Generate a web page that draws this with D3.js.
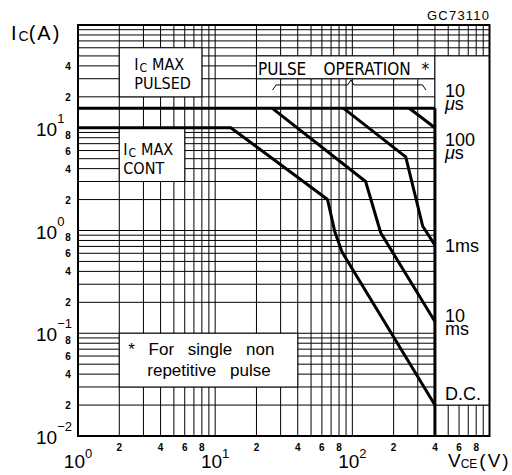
<!DOCTYPE html>
<html>
<head>
<meta charset="utf-8">
<script src="https://cdn.jsdelivr.net/npm/d3@7"></script>
<style>
    body { margin: 0; background: #fff; }
    svg { display: block; }
    .narrow { font-family: "Liberation Sans Narrow", "DejaVu Sans Condensed", "Liberation Sans", sans-serif; }
    .plain { font-family: "Liberation Sans", Arial, sans-serif; }
    .tickLabel { font-family: "Liberation Sans", Arial, sans-serif; font-weight: bold; font-size: 10px; }
</style>
</head>
<body>
<div id="chart"></div>
<script>
// data
const vceDomain = [1, 1000];
const icDomain = [0.01, 100];

// soa limit curves (Vce in V, Ic in A)
const us10Vce = [1, 400];
const us10Ic = [15.5, 15.5];
const us100Vce = [260, 400];
const us100Ic = [15.5, 10];
const ms1Vce = [86, 245, 326, 400];
const ms1Ic = [15.5, 5.2, 1.1, 0.72];
const ms10Vce = [26, 125, 161, 400];
const ms10Ic = [15.5, 3, 0.95, 0.13];
const dcVce = [1, 13, 66, 74.5, 84, 400];
const dcIc = [10, 10, 2, 0.97, 0.62, 0.02];
const vceoMax = 400;

// curve names in the right hand column, with the Ic of their first baseline
const curveNames = [["10", "μs"], ["100", "μs"], ["1ms"], ["10", "ms"], ["D.C."]];
const curveNameIc = [20, 6.6, 0.62, 0.13, 0.0225];

// tick labels
const xDecadeExps = [0, 1, 2];
const yDecadeExps = [-2, -1, 0, 1];
const minorDigits = [2, 4, 6, 8];

// constants
const WIDTH = 512;
const HEIGHT = 475;
const PLOT_LEFT = 78;
const PLOT_RIGHT = 489.5;
const PLOT_TOP = 25;
const PLOT_BOTTOM = 436;
const CURVE_WIDTH = 3;

const x = d3.scaleLog().domain(vceDomain).range([PLOT_LEFT, PLOT_RIGHT]);
const y = d3.scaleLog().domain(icDomain).range([PLOT_BOTTOM, PLOT_TOP]);

const svg = d3.select("#chart").append("svg")
    .attr("width", WIDTH)
    .attr("height", HEIGHT);

drawGrid();
drawBoxes();
drawCurves();
drawFrame();
drawAxisLabels();
drawNotes();

function drawGrid() {
    const grid = svg.append("g").attr("stroke", "#000").attr("stroke-width", 1);
    grid.selectAll(".vgrid")
        .data(x.ticks())
        .join("line")
        .attr("class", "vgrid")
        .attr("x1", d => x(d)).attr("x2", d => x(d))
        .attr("y1", PLOT_TOP).attr("y2", PLOT_BOTTOM);
    grid.selectAll(".hgrid")
        .data(y.ticks())
        .join("line")
        .attr("class", "hgrid")
        .attr("x1", PLOT_LEFT).attr("x2", PLOT_RIGHT)
        .attr("y1", d => y(d)).attr("y2", d => y(d));
}

function box(v0, v1, i0, i1) {
    svg.append("rect")
        .attr("x", x(v0))
        .attr("y", y(i1))
        .attr("width", x(v1) - x(v0))
        .attr("height", y(i0) - y(i1))
        .attr("fill", "#fff")
        .attr("stroke", "#000")
        .attr("stroke-width", 1);
}

function drawBoxes() {
    box(2, 8, 20, 60);        // Ic max pulsed
    box(2, 6, 3, 10);         // Ic max cont
    box(20, 400, 30, 50);     // pulse operation
    box(2, 40, 0.03, 0.1);    // footnote
    box(400, 1000, 0.02, 50); // curve names
}

function drawCurves() {
    const line = d3.line().x(d => x(d[0])).y(d => y(d[1]));
    const curves = [
        [us10Vce, us10Ic],
        [us100Vce, us100Ic],
        [ms1Vce, ms1Ic],
        [ms10Vce, ms10Ic],
        [dcVce, dcIc],
    ].map(([vs, is]) => vs.map((v, k) => [v, is[k]]));

    svg.append("g").selectAll("path")
        .data(curves)
        .join("path")
        .attr("d", line)
        .attr("fill", "none")
        .attr("stroke", "#000")
        .attr("stroke-width", CURVE_WIDTH)
        .attr("stroke-linejoin", "round");

    // vceo limit
    svg.append("line")
        .attr("x1", x(vceoMax)).attr("x2", x(vceoMax))
        .attr("y1", y(us10Ic[0])).attr("y2", PLOT_BOTTOM)
        .attr("stroke", "#000")
        .attr("stroke-width", CURVE_WIDTH);
}

function drawFrame() {
    svg.append("rect")
        .attr("x", PLOT_LEFT).attr("y", PLOT_TOP)
        .attr("width", PLOT_RIGHT - PLOT_LEFT)
        .attr("height", PLOT_BOTTOM - PLOT_TOP)
        .attr("fill", "none")
        .attr("stroke", "#000")
        .attr("stroke-width", 2);
}

function mantissa(v) {
    return Math.round(v / Math.pow(10, Math.floor(Math.log10(v) + 1e-9)));
}

function drawAxisLabels() {
    // minor x labels
    svg.append("g").selectAll("text")
        .data(x.ticks().filter(d => minorDigits.includes(mantissa(d)) && d < vceDomain[1]))
        .join("text")
        .attr("class", "tickLabel")
        .attr("x", d => x(d))
        .attr("y", 451)
        .attr("text-anchor", "middle")
        .text(d => mantissa(d));

    // minor y labels (none for 6 and 8 in the top decade)
    svg.append("g").selectAll("text")
        .data(y.ticks().filter(d => minorDigits.includes(mantissa(d)) && !(d > 50)))
        .join("text")
        .attr("class", "tickLabel")
        .attr("x", 68)
        .attr("y", d => y(d) + (mantissa(d) === 8 ? 1 : 4))
        .attr("text-anchor", "middle")
        .text(d => mantissa(d));

    // decade labels
    const xDec = svg.append("g").selectAll("text")
        .data(xDecadeExps)
        .join("text")
        .attr("class", "plain")
        .attr("x", d => x(Math.pow(10, d)))
        .attr("y", 468)
        .attr("text-anchor", "middle")
        .attr("font-size", 19);
    xDec.append("tspan").text("10");
    xDec.append("tspan").attr("dy", -10).attr("font-size", 13).text(d => d);

    const yDec = svg.append("g").selectAll("text")
        .data(yDecadeExps)
        .join("text")
        .attr("class", "plain")
        .attr("x", 36)
        .attr("y", d => y(Math.pow(10, d)) + 8)
        .attr("font-size", 19);
    yDec.append("tspan").text("10");
    yDec.append("tspan").attr("dy", -13).attr("font-size", 13)
        .text(d => (d < 0 ? "−" + (-d) : d));

    // axis titles
    const ic = svg.append("text")
        .attr("class", "plain")
        .attr("x", 11).attr("y", 40)
        .attr("font-size", 20);
    ic.append("tspan").text("I");
    ic.append("tspan").attr("dx", 2).attr("dy", 1).attr("font-size", 14).text("C");
    ic.append("tspan").attr("dy", -1).attr("letter-spacing", 2).text("(A)");

    const vce = svg.append("text")
        .attr("class", "plain")
        .attr("x", 448).attr("y", 467)
        .attr("font-size", 19);
    vce.append("tspan").text("V");
    vce.append("tspan").attr("dy", 1).attr("font-size", 12).text("CE");
    vce.append("tspan").attr("dy", -1).attr("dx", 2).attr("letter-spacing", 2).text("(V)");

    svg.append("text")
        .attr("class", "plain")
        .attr("x", 489).attr("y", 20)
        .attr("text-anchor", "end")
        .attr("font-size", 13)
        .attr("textLength", 62)
        .text("GC73110");
}

function icMaxLabel(x0, yTop, second) {
    const t = svg.append("text")
        .attr("class", "narrow")
        .attr("x", x0).attr("y", yTop)
        .attr("font-size", 16);
    t.append("tspan").text("I");
    t.append("tspan").attr("dx", 1).attr("dy", 2).attr("font-size", 12).text("C");
    t.append("tspan").attr("dx", 5).attr("dy", -2).text("MAX");
    svg.append("text")
        .attr("class", "narrow")
        .attr("x", x0).attr("y", yTop + 19)
        .attr("font-size", 16)
        .text(second);
}

function drawNotes() {
    icMaxLabel(x(2) + 15, 70, "PULSED");
    icMaxLabel(x(2) + 4, 155, "CONT");

    const pulseOp = svg.append("text")
        .attr("class", "narrow")
        .attr("y", 75)
        .attr("font-size", 17);
    pulseOp.append("tspan").attr("x", x(20) + 1.5).text("PULSE");
    pulseOp.append("tspan").attr("x", x(20) + 67).text("OPERATION");
    pulseOp.append("tspan").attr("x", x(20) + 165).text("*");

    // brace under "pulse operation"
    const braceVce = [26.2, 27.8, 92.4, 97.7, 102.8, 325, 344];
    const braceIc = [23.3, 26.1, 26.1, 29.2, 26.1, 26.1, 23.3];
    svg.append("path")
        .attr("d", d3.line().x(d => x(d[0])).y(d => y(d[1]))(braceVce.map((v, k) => [v, braceIc[k]])))
        .attr("fill", "none")
        .attr("stroke", "#000")
        .attr("stroke-width", 1);

    const foot = svg.append("text")
        .attr("class", "plain")
        .attr("font-size", 17)
        .attr("word-spacing", 9);
    foot.append("tspan").attr("x", x(2) + 9).attr("y", 355).text("* For single non");
    foot.append("tspan").attr("x", x(2) + 28).attr("y", 376).text("repetitive pulse");

    // curve names
    const names = svg.append("g").selectAll("text")
        .data(curveNames)
        .join("text")
        .attr("class", "plain")
        .attr("font-size", 18)
        .attr("x", x(vceoMax) + 10)
        .attr("y", (d, k) => y(curveNameIc[k]));
    names.each(function (d) {
        const self = d3.select(this);
        d.forEach((part, j) => {
            const span = self.append("tspan")
                .attr("x", x(vceoMax) + 10)
                .attr("dy", j === 0 ? 0 : 13);
            if (part === "μs") {
                span.append("tspan").attr("font-style", "italic").text("μ");
                span.append("tspan").text("s");
            } else {
                span.text(part);
            }
        });
    });
}
</script>
</body>
</html>
